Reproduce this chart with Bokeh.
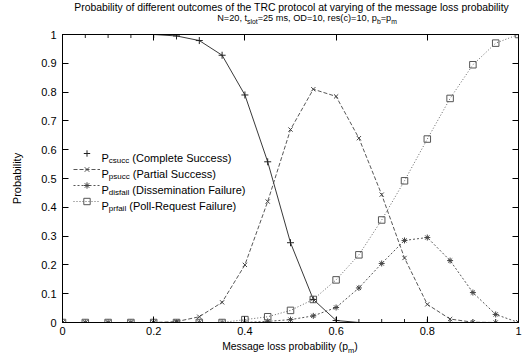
from bokeh.plotting import figure
from bokeh.models import (LinearAxis, FixedTicker, CustomJSTickFormatter, Label,
                          Legend, LegendItem, Div)
from bokeh.layouts import column
from bokeh.core.properties import value
from bokeh.embed import file_html
from bokeh.resources import INLINE

# ---------------- data ----------------
p_m = [0.0, 0.05, 0.10, 0.15, 0.20, 0.25, 0.30, 0.35, 0.40, 0.45, 0.50,
       0.55, 0.60, 0.65, 0.70, 0.75, 0.80, 0.85, 0.90, 0.95, 1.0]
p_csucc = [1.0, 1.0, 1.0, 1.0, 1.0, 0.995, 0.979, 0.928, 0.79, 0.558, 0.277,
           0.08, 0.007, 0.0, 0.0, 0.0, 0.0, 0.0, 0.0, 0.0, 0.0]
p_psucc = [0.0, 0.0, 0.0, 0.0, 0.0, 0.003, 0.02, 0.07, 0.2, 0.42, 0.67,
           0.81, 0.785, 0.64, 0.444, 0.224, 0.063, 0.012, 0.001, 0.0, 0.0]
p_disfail = [0.0, 0.0, 0.0, 0.0, 0.0, 0.0, 0.0, 0.0, 0.0, 0.004, 0.01,
             0.023, 0.052, 0.12, 0.205, 0.285, 0.295, 0.215, 0.104, 0.028, 0.0]
p_prfail = [0.0, 0.0, 0.0, 0.0, 0.0, 0.0, 0.0, 0.0, 0.01, 0.02, 0.042,
            0.08, 0.148, 0.235, 0.356, 0.492, 0.637, 0.778, 0.895, 0.97, 1.0]

x_ticks = [0, 0.2, 0.4, 0.6, 0.8, 1.0]
x_tick_labels = ["0", "0.2", "0.4", "0.6", "0.8", "1"]
y_ticks = [0, 0.1, 0.2, 0.3, 0.4, 0.5, 0.6, 0.7, 0.8, 0.9, 1.0]
y_tick_labels = ["0", "0.1", "0.2", "0.3", "0.4", "0.5", "0.6", "0.7", "0.8", "0.9", "1"]

title_line1 = "Probability of different outcomes of the TRC protocol at varying of the message loss probability"
title_line2 = [("N=20, t", False), ("slot", True), ("=25 ms, OD=10, res(c)=10, p", False),
               ("b", True), ("=p", False), ("m", True)]
x_label = [("Message loss probability (p", False), ("m", True), (")", False)]
y_label = "Probability"
legend_texts = [
    [("P", False), ("csucc", True), (" (Complete Success)", False)],
    [("P", False), ("psucc", True), (" (Partial Success)", False)],
    [("P", False), ("disfail", True), (" (Dissemination Failure)", False)],
    [("P", False), ("prfail", True), (" (Poll-Request Failure)", False)],
]

# ---------------- layout ----------------
PAGE_W = 526
TITLE_H = 30
FIG_H = 312
XLAB_H = 14
FL, FR, FT, FB = 62, 8, 4, 20          # frame borders inside the figure
FRAME_LEFT, FRAME_W = 62, 456          # in page pixels
FRAME_TOP, FRAME_H = TITLE_H + FT, FIG_H - FT - FB
FONT = "Liberation Sans"

AW = {' ': 278, '(': 333, ')': 333, ',': 278, '-': 333, '.': 278, '=': 584,
      'C': 722, 'D': 722, 'F': 611, 'M': 833, 'N': 722, 'O': 778, 'P': 667,
      'R': 722, 'S': 667, 'T': 611, 'a': 556, 'b': 556, 'c': 500, 'd': 556,
      'e': 556, 'f': 278, 'g': 556, 'h': 556, 'i': 222, 'l': 222, 'm': 833,
      'n': 556, 'o': 556, 'p': 556, 'q': 556, 'r': 333, 's': 500, 't': 278,
      'u': 556, 'v': 500, 'y': 500}


def tw(s, size):
    return sum(AW.get(c, 556) for c in s) * size / 1000.0


def dx(px):
    return (px - FRAME_LEFT) / FRAME_W


def dy(py):
    return (FRAME_TOP + FRAME_H - py) / FRAME_H


p = figure(width=PAGE_W, height=FIG_H, x_range=(0, 1), y_range=(0, 1),
           output_backend="svg", toolbar_location=None,
           min_border_left=FL, min_border_right=FR,
           min_border_top=FT, min_border_bottom=FB,
           background_fill_color="white", border_fill_color="white", margin=0)
p.xgrid.visible = False
p.ygrid.visible = False
p.outline_line_color = "black"
p.outline_line_width = 1


def fmt(ticks, labels):
    return CustomJSTickFormatter(args=dict(tv=ticks, tl=labels), code="""
        for (let i = 0; i < tv.length; i++) {
            if (Math.abs(tv[i] - tick) < 1e-9) return tl[i];
        }
        return '';
    """)


def style_axis(ax, show_labels=True):
    ax.axis_line_color = "black"
    ax.axis_line_width = 1
    ax.major_tick_line_color = "black"
    ax.major_tick_in = 6
    ax.major_tick_out = 0
    ax.minor_tick_line_color = None
    ax.major_label_text_font = FONT
    ax.major_label_text_font_size = "11px"
    ax.major_label_text_color = "black"
    if not show_labels:
        ax.major_label_standoff = 0
        ax.major_label_text_font_size = "0px"


xa = p.xaxis[0]
xa.ticker = FixedTicker(ticks=x_ticks)
xa.formatter = fmt(x_ticks, x_tick_labels)
style_axis(xa)
xa.major_label_standoff = 4

ya = p.yaxis[0]
ya.ticker = FixedTicker(ticks=y_ticks)
ya.formatter = fmt(y_ticks, y_tick_labels)
style_axis(ya)
ya.major_label_standoff = 6
ya.axis_label = y_label
ya.axis_label_text_font = FONT
ya.axis_label_text_font_size = "11px"
ya.axis_label_text_font_style = "normal"
ya.axis_label_text_color = "black"
ya.axis_label_standoff = 15

top = LinearAxis(ticker=FixedTicker(ticks=x_ticks), formatter=CustomJSTickFormatter(code="return '';"))
style_axis(top, False)
p.add_layout(top, "above")
right = LinearAxis(ticker=FixedTicker(ticks=y_ticks), formatter=CustomJSTickFormatter(code="return '';"))
style_axis(right, False)
p.add_layout(right, "right")

# ---------------- series ----------------
c1, c2, c3, c4 = "#222222", "#444444", "#444444", "#555555"
s1 = p.scatter(p_m, p_csucc, marker="cross", size=7, line_color=c1, line_width=1)
l1 = p.line(p_m, p_csucc, line_color=c1, line_width=0.9)
l2 = p.line(p_m, p_psucc, line_color=c2, line_width=0.9, line_dash="4 2")
s2 = p.scatter(p_m, p_psucc, marker="x", size=6, line_color=c2, line_width=1)
l3 = p.line(p_m, p_disfail, line_color=c3, line_width=0.9, line_dash="2 2")
s3 = p.scatter(p_m, p_disfail, marker="asterisk", size=6, line_color=c3, line_width=1)
l4 = p.line(p_m, p_prfail, line_color=c4, line_width=0.9, line_dash="1 2")
s4 = p.scatter(p_m, p_prfail, marker="square", size=6.5, line_color=c4,
               fill_color=None, line_width=1)

legend = Legend(items=[
    LegendItem(label=value(" "), renderers=[s1]),
    LegendItem(label=value(" "), renderers=[l2, s2]),
    LegendItem(label=value(" "), renderers=[l3, s3]),
    LegendItem(label=value(" "), renderers=[l4, s4]),
], location=(11, 113), glyph_width=27, glyph_height=16, label_height=16,
    label_standoff=0, label_width=1, label_text_font_size="1px", spacing=0, padding=0, margin=0,
    border_line_color=None, background_fill_alpha=0)
p.add_layout(legend)


def add_run(pieces, px, py, size, sub_size, drop):
    off = 0.0
    for t, s in pieces:
        sz = sub_size if s else size
        lead = len(t) - len(t.lstrip(" "))
        txt = t.strip(" ")
        p.add_layout(Label(x=dx(px + off + tw(" " * lead, sz)),
                           y=dy(py + (drop if s else 0)),
                           text=txt, text_font=FONT, text_font_size=f"{sz}px",
                           text_color="black", text_align="left",
                           text_baseline="alphabetic"))
        off += tw(t, sz)


for i, pieces in enumerate(legend_texts):
    add_run(pieces, 101, 157 + 16.3 * i, 11, 8, 2.5)


# ---------------- HTML text outside the frame (with real subscripts) ----------------
def html_run(pieces, sub_px, drop):
    out = []
    for t, s in pieces:
        if s:
            out.append(f'<span style="font-size:{sub_px}px;vertical-align:-{drop}px">{t}</span>')
        else:
            out.append(t)
    return "".join(out)


def line_div(html, center_x, top, size, lh):
    return (f'<div style="position:absolute;left:{center_x - 260}px;width:520px;top:{top}px;'
            f'text-align:center;white-space:nowrap;font-family:\'{FONT}\';font-size:{size}px;'
            f'line-height:{lh}px;color:black">{html}</div>')


title_html = ('<div style="position:relative;width:%dpx;height:%dpx;overflow:visible">' % (PAGE_W, TITLE_H)
              + line_div(title_line1, 291.5, 2, 10.4, 11)
              + line_div(html_run(title_line2, 6.8, 2.5), 307, 12.5, 9.2, 11)
              + '</div>')
xlab_html = ('<div style="position:relative;width:%dpx;height:%dpx;overflow:visible">' % (PAGE_W, XLAB_H)
             + line_div(html_run(x_label, 7.5, 2.5), FRAME_LEFT + FRAME_W / 2, 0, 10.4, 9)
             + '</div>')

title_div = Div(text=title_html, width=PAGE_W, height=TITLE_H, margin=0)
xlab_div = Div(text=xlab_html, width=PAGE_W, height=XLAB_H, margin=0)

layout = column(title_div, p, xlab_div, spacing=0, margin=0)
open("out.html", "w").write(file_html(layout, INLINE))
